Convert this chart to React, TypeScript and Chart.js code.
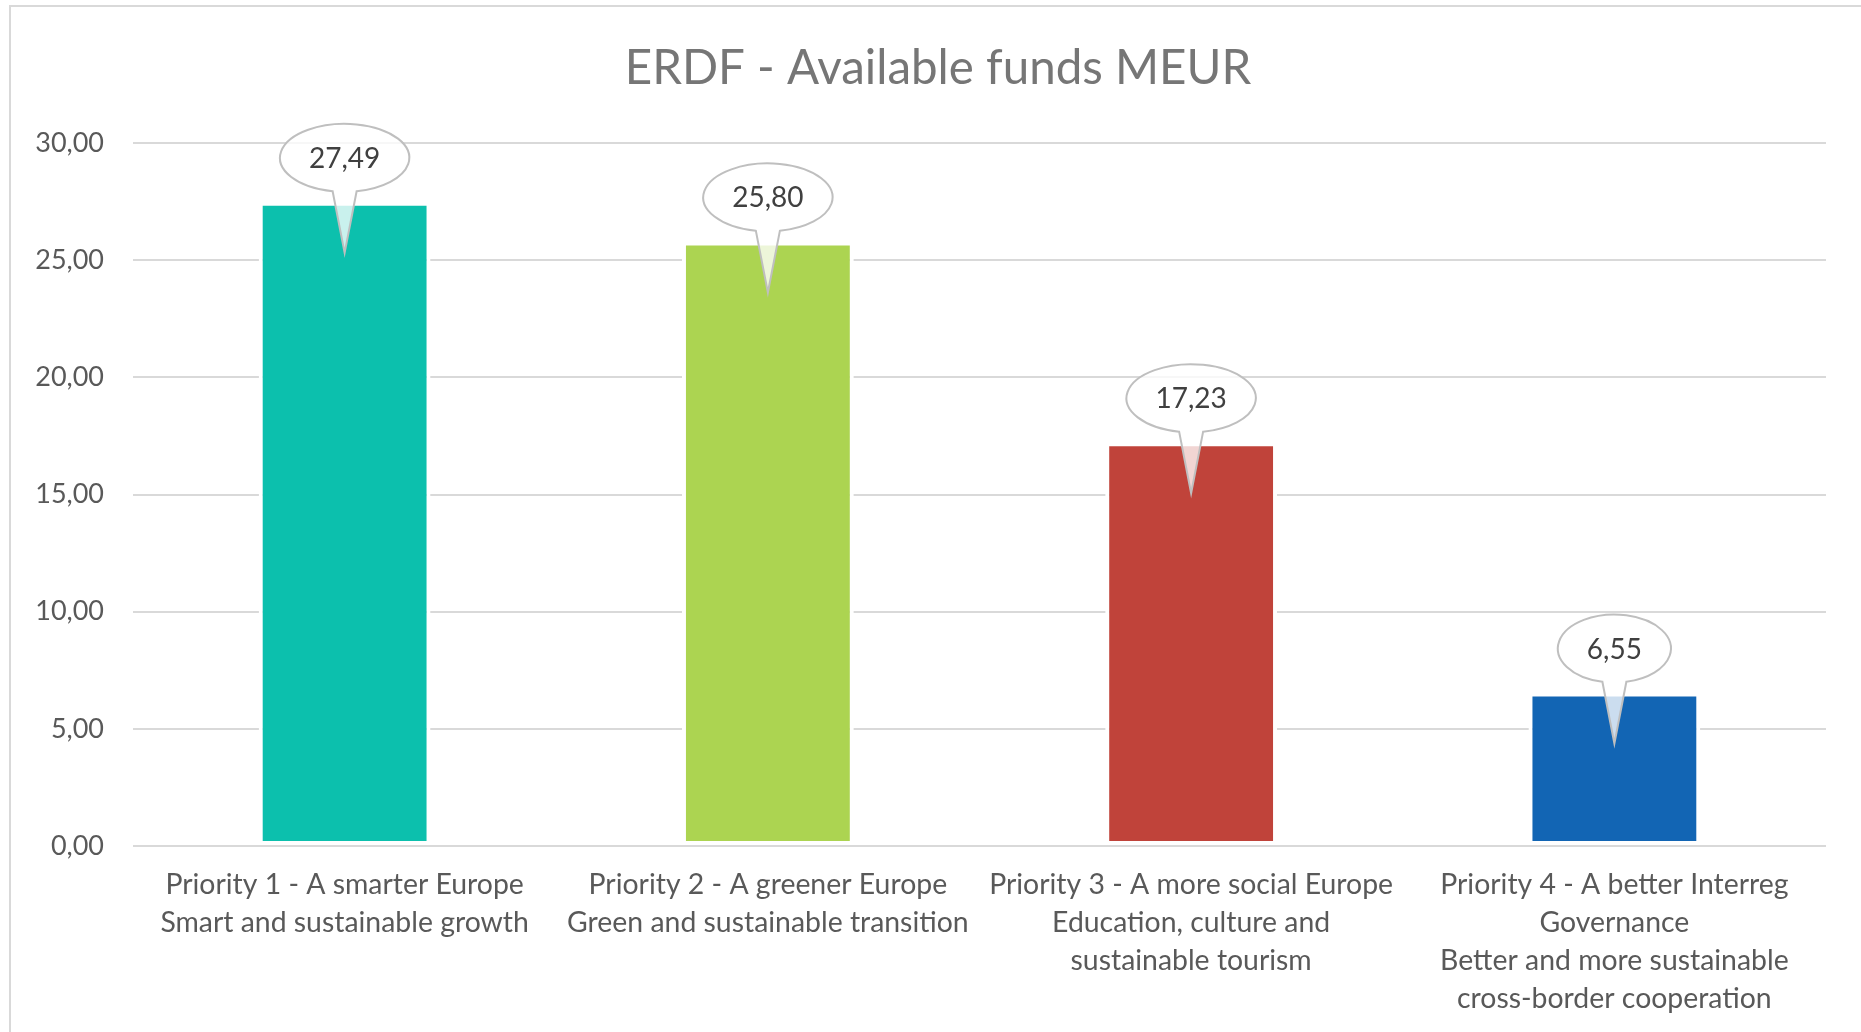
import { useEffect, useRef } from "react";
import { Chart, registerables } from "chart.js";

Chart.register(...registerables);

const chartTitle = "ERDF - Available funds MEUR";
const categories: string[][] = [
  ["Priority 1 - A smarter Europe", "Smart and sustainable growth"],
  ["Priority 2 - A greener Europe", "Green and sustainable transition"],
  ["Priority 3 - A more social Europe", "Education, culture and", "sustainable tourism"],
  ["Priority 4 - A better Interreg", "Governance", "Better and more sustainable", "cross-border cooperation"],
];
const values = [27.49, 25.8, 17.23, 6.55];
const barColors = ["#0CC0AD", "#ACD451", "#C0433A", "#1265B4"];
const yMin = 0;
const yMax = 30;
const yStep = 5;

const FONT = "Lato, 'Open Sans', sans-serif";
const fmt = (v: number) => v.toFixed(2).replace(".", ",");

const W = 1861;
const H = 1032;

export default function App() {
  const ref = useRef<HTMLCanvasElement | null>(null);

  useEffect(() => {
    document.body.style.margin = "0";
    const canvas = ref.current;
    if (!canvas) return;

    const titlePlugin = {
      id: "customTitle",
      afterDraw(chart: any) {
        const ctx = chart.ctx;
        ctx.save();
        ctx.font = `47.5px ${FONT}`;
        ctx.fillStyle = "#767676";
        ctx.textAlign = "center";
        ctx.textBaseline = "middle";
        ctx.fillText(chartTitle, 938, 69);
        ctx.restore();
      },
    };

    const calloutPlugin = {
      id: "callouts",
      afterDatasetsDraw(chart: any) {
        const ctx = chart.ctx;
        const meta = chart.getDatasetMeta(0);
        ctx.save();
        ctx.font = `28px ${FONT}`;
        meta.data.forEach((bar: any, i: number) => {
          const text = fmt(values[i]);
          const tw = ctx.measureText(text).width;
          const cx = bar.x;
          const cy = bar.y - 44;
          const rx = tw / 2 + 29;
          const ry = 34;
          const tipY = bar.y + 51;
          const half = 12;
          const t1 = Math.acos(half / rx);
          const t2 = Math.PI - t1;
          ctx.beginPath();
          ctx.ellipse(cx, cy, rx, ry, 0, t2, t1 + Math.PI * 2, false);
          ctx.lineTo(cx, tipY);
          ctx.closePath();
          ctx.fillStyle = "rgba(255,255,255,0.78)";
          ctx.fill();
          ctx.lineWidth = 2;
          ctx.strokeStyle = "#BFBFBF";
          ctx.lineJoin = "miter";
          ctx.stroke();
          ctx.fillStyle = "#404040";
          ctx.textAlign = "center";
          ctx.textBaseline = "middle";
          ctx.fillText(text, cx, cy + 1);
        });
        ctx.restore();
      },
    };

    const chart = new Chart(canvas, {
      type: "bar",
      data: {
        labels: categories,
        datasets: [
          {
            data: values,
            backgroundColor: barColors,
            borderColor: "#FFFFFF",
            borderWidth: 4,
            borderSkipped: false,
            categoryPercentage: 1,
            barPercentage: 0.406,
          },
        ],
      },
      options: {
        animation: false,
        responsive: false,
        maintainAspectRatio: false,
        devicePixelRatio: 1,
        layout: { padding: { top: 143, right: 35, bottom: 0, left: 0 } },
        plugins: {
          legend: { display: false },
          title: { display: false },
          tooltip: { enabled: false },
        },
        scales: {
          x: {
            grid: { display: false, drawTicks: false },
            border: { display: false },
            ticks: {
              autoSkip: false,
              maxRotation: 0,
              minRotation: 0,
              padding: 20,
              color: "#595959",
              font: { family: FONT, size: 28.4, lineHeight: "38px" } as any,
            },
            afterFit(scale: any) {
              scale.height = H - 846;
            },
          },
          y: {
            min: yMin,
            max: yMax,
            grid: { color: "#D9D9D9", lineWidth: 2, drawTicks: false },
            border: { display: false },
            ticks: {
              stepSize: yStep,
              padding: 29,
              color: "#595959",
              font: { family: FONT, size: 27 },
              callback: (v: any) => fmt(Number(v)),
            },
            afterFit(scale: any) {
              scale.width = 133;
            },
          },
        },
      },
      plugins: [titlePlugin, calloutPlugin],
    });

    return () => chart.destroy();
  }, []);

  return (
    <div
      style={{
        position: "absolute",
        left: 0,
        top: 0,
        width: W,
        height: H,
        overflow: "hidden",
        background: "#FFFFFF",
      }}
    >
      <div
        style={{
          position: "absolute",
          left: 9,
          top: 5,
          width: 2400,
          height: 2400,
          border: "2px solid #D9D9D9",
          boxSizing: "border-box",
        }}
      />
      <canvas
        ref={ref}
        width={W}
        height={H}
        style={{ position: "absolute", left: 0, top: 0, width: W, height: H }}
      />
    </div>
  );
}
